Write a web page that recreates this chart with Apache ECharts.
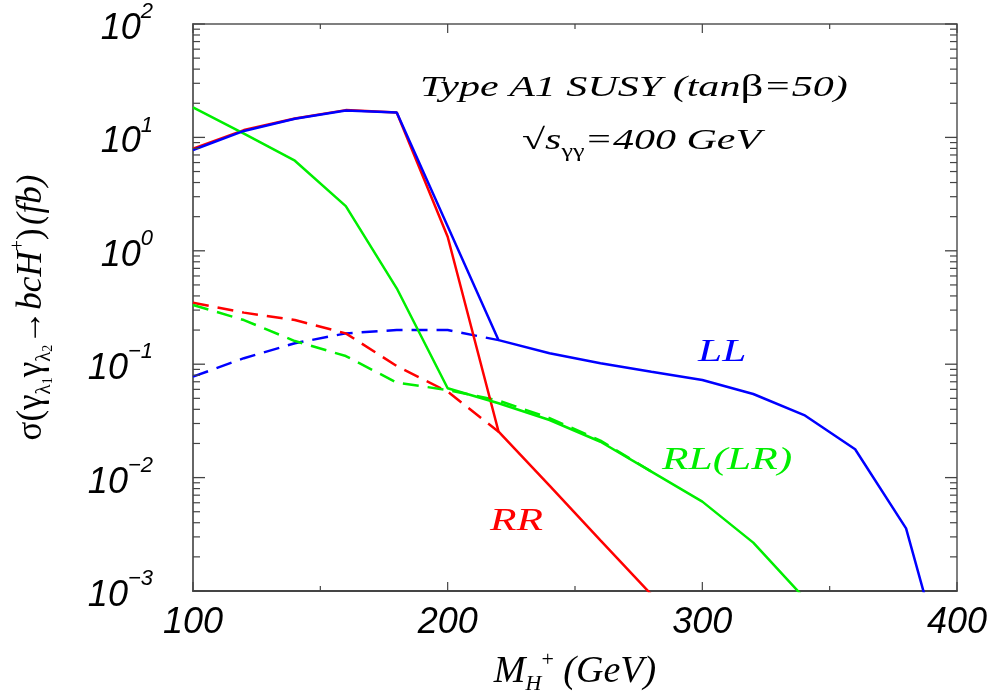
<!DOCTYPE html>
<html>
<head>
<meta charset="utf-8">
<script src="https://cdn.jsdelivr.net/npm/echarts@6/dist/echarts.min.js"></script>
<style>html,body{margin:0;padding:0;background:#fff;}#c{width:1002px;height:691px;}</style>
</head>
<body>
<div id="c"></div>
<script>
// ---- data ----
const xTicks = [100, 200, 300, 400];
const xMinorTicks = [150, 250, 350];
const yMajorTicks = [0.001, 0.01, 0.1, 1, 10, 100];

// LL (blue)
const massLLsolid = [100,120,140,160,180,200,220,240,260,280,300,320,340,360,380,390];
const sigLLsolid  = [7.74,11.4,14.6,17.3,16.6,1.65,0.163,0.125,0.102,0.0859,0.0726,0.0546,0.0356,0.0178,0.00357,0.00055];
const massLLdash  = [100,120,140,160,180,200,220];
const sigLLdash   = [0.0776,0.113,0.153,0.187,0.200,0.200,0.163];

// RR (red)
const massRRsolid = [100,120,140,160,180,200,220,240,260,280];
const sigRRsolid  = [7.95,11.6,14.7,17.4,16.6,1.33,0.0254,0.00848,0.0028,0.00093];
const massRRdash  = [100,120,140,160,180,200,220];
const sigRRdash   = [0.348,0.285,0.245,0.187,0.0964,0.0573,0.0254];

// RL(LR) (green)
const massRLsolid = [100,120,140,160,180,200,220,240,260,280,300,320,340];
const sigRLsolid  = [18.4,10.8,6.23,2.48,0.467,0.0613,0.0452,0.0322,0.0207,0.0113,0.00614,0.00267,0.00087];
const massRLdash  = [100,120,140,160,180,200,220,240,260,280];
const sigRLdash   = [0.333,0.245,0.160,0.118,0.0687,0.0592,0.0478,0.0335,0.0212,0.0113];

// minor log ticks (mantissas within each decade)
const minorMantissas = [2,3,4,5,6,7,8,9];
const minorDecades = [0.001,0.01,0.1,1,10];

// ---- build ----
const pairs = (xs, ys) => xs.map((x, i) => [x, ys[i]]);
const minorTickVals = [];
minorDecades.forEach(d => minorMantissas.forEach(m => minorTickVals.push(+(m * d).toPrecision(3))));

const BLUE = '#0000ff', RED = '#ff0000', GREEN = '#00ee00';
const SERIF = 'Liberation Serif';
const SANS = 'Liberation Sans';

function line(name, data, color, dashed) {
  return {
    name: name, type: 'line', data: data, showSymbol: false,
    clip: true, animation: false,
    lineStyle: { color: color, width: 2.5, type: dashed ? [16, 9] : 'solid' }
  };
}

const supLabel = function (v) {
  const e = Math.round(Math.log10(v));
  const es = e < 0 ? '\u2212' + (-e) : String(e);
  return '{b|10}{s|' + es + '}';
};

const texts = [
  {
    type: 'text', x: 420, y: 88, scaleX: 1.45, silent: true,
    style: {
      text: '{i|Type A1 SUSY (tan}{g|\u03b2}{i|=50)}',
      align: 'left', verticalAlign: 'middle',
      rich: {
        i: { fontFamily: SERIF, fontStyle: 'italic', fontSize: 29, fill: '#000', lineHeight: 36 },
        g: { fontFamily: SERIF, fontSize: 31, fill: '#000', lineHeight: 36 }
      }
    }
  },
  {
    type: 'text', x: 522, y: 141, scaleX: 1.45, silent: true,
    style: {
      text: '{g|\u221a}{i|s}{sub|\u03b3\u03b3}{i|=400 GeV}',
      align: 'left', verticalAlign: 'middle',
      rich: {
        g: { fontFamily: SERIF, fontSize: 29, fill: '#000', lineHeight: 40, verticalAlign: 'middle' },
        i: { fontFamily: SERIF, fontStyle: 'italic', fontSize: 29, fill: '#000', lineHeight: 40, verticalAlign: 'middle' },
        sub: { fontFamily: SERIF, fontSize: 18, fill: '#000', lineHeight: 14, verticalAlign: 'bottom' }
      }
    }
  },
  {
    type: 'text', x: 698, y: 353, scaleX: 1.4, silent: true,
    style: { text: 'LL', fontFamily: SERIF, fontStyle: 'italic', fontSize: 31, fill: BLUE, align: 'left', verticalAlign: 'middle' }
  },
  {
    type: 'text', x: 662, y: 461, scaleX: 1.4, silent: true,
    style: { text: 'RL(LR)', fontFamily: SERIF, fontStyle: 'italic', fontSize: 31, fill: GREEN, align: 'left', verticalAlign: 'middle' }
  },
  {
    type: 'text', x: 490, y: 522, scaleX: 1.4, silent: true,
    style: { text: 'RR', fontFamily: SERIF, fontStyle: 'italic', fontSize: 31, fill: RED, align: 'left', verticalAlign: 'middle' }
  }
];

const chart = echarts.init(document.getElementById('c'), null, { renderer: 'canvas' });

chart.setOption({
  animation: false,
  backgroundColor: '#fff',
  grid: {
    left: 193, top: 24, right: 45, bottom: 100, containLabel: false, outerBoundsMode: 'none',
    show: true, borderColor: '#555', borderWidth: 1.5, backgroundColor: 'transparent'
  },
  xAxis: {
    type: 'value', min: 100, max: 400, interval: 100,
    axisLine: { show: true, onZero: false, lineStyle: { color: '#333', width: 1.5 } },
    axisTick: { show: false },
    minorTick: { show: false },
    splitLine: { show: false },
    axisLabel: {
      margin: 14, fontSize: 36, fontStyle: 'italic', fontFamily: SANS, color: '#000',
      formatter: function (v) { return xTicks.indexOf(v) >= 0 ? String(v) : ''; }
    },
    name: '{i|M}{sub|H}{sup|+}{i| (GeV)}',
    nameLocation: 'middle', nameGap: 58,
    nameTextStyle: {
      rich: {
        i: { fontFamily: SERIF, fontStyle: 'italic', fontSize: 38, color: '#000', lineHeight: 46, verticalAlign: 'middle' },
        sub: { fontFamily: SERIF, fontStyle: 'italic', fontSize: 22, color: '#000', lineHeight: 14, verticalAlign: 'bottom' },
        sup: { fontFamily: SERIF, fontSize: 22, color: '#000', lineHeight: 32, verticalAlign: 'top' }
      }
    }
  },
  yAxis: {
    type: 'log', logBase: 10, min: 0.001, max: 100, interval: 1,
    axisLine: { show: true, onZero: false, lineStyle: { color: '#666', width: 2 } },
    axisTick: { show: false },
    splitLine: { show: false },
    axisLabel: {
      margin: 40, color: '#000', formatter: supLabel,
      rich: {
        b: { fontSize: 36, fontStyle: 'italic', fontFamily: SANS, color: '#000', lineHeight: 44, verticalAlign: 'bottom' },
        s: { fontSize: 22, fontStyle: 'italic', fontFamily: SANS, color: '#000', lineHeight: 46, verticalAlign: 'top' }
      }
    },
    name: '{g|\u03c3(\u03b3}{l|\u03bb}{n|1}{g|\u03b3}{l|\u03bb}{n|2}{g|\u2192}{i|bcH}{p|+}{g|)} {i|(fb)}',
    nameLocation: 'middle', nameRotate: 90, nameGap: 138,
    nameTextStyle: {
      rich: {
        g: { fontFamily: SERIF, fontSize: 35, color: '#000', lineHeight: 46, verticalAlign: 'middle' },
        i: { fontFamily: SERIF, fontStyle: 'italic', fontSize: 35, color: '#000', lineHeight: 46, verticalAlign: 'middle' },
        l: { fontFamily: SERIF, fontSize: 21, color: '#000', lineHeight: 22, verticalAlign: 'bottom' },
        n: { fontFamily: SERIF, fontSize: 14, color: '#000', lineHeight: 8, verticalAlign: 'bottom' },
        p: { fontFamily: SERIF, fontSize: 20, color: '#000', lineHeight: 34, verticalAlign: 'top' }
      }
    }
  },
  series: [
    line('LL dashed', pairs(massLLdash, sigLLdash), BLUE, true),
    line('RR dashed', pairs(massRRdash, sigRRdash), RED, true),
    line('RL dashed', pairs(massRLdash, sigRLdash), GREEN, true),
    line('RR', pairs(massRRsolid, sigRRsolid), RED, false),
    line('RL(LR)', pairs(massRLsolid, sigRLsolid), GREEN, false),
    line('LL', pairs(massLLsolid, sigLLsolid), BLUE, false)
  ]
});

// ---- tick marks on all four sides, positioned through the chart's own scales ----
const px = (x, y) => chart.convertToPixel({ gridIndex: 0 }, [x, y]);
const ticks = [];
function tickLine(x1, y1, x2, y2, w) {
  ticks.push({ type: 'line', silent: true, z: 5,
    shape: { x1: x1, y1: y1, x2: x2, y2: y2 },
    style: { stroke: '#444', lineWidth: w } });
}
// y ticks, left and right
yMajorTicks.forEach(v => {
  const pL = px(100, v), pR = px(400, v);
  tickLine(pL[0], pL[1], pL[0] + 12, pL[1], 1.3);
  tickLine(pR[0] - 12, pR[1], pR[0], pR[1], 1.3);
});
minorTickVals.forEach(v => {
  const pL = px(100, v), pR = px(400, v);
  tickLine(pL[0], pL[1], pL[0] + 7, pL[1], 1.2);
  tickLine(pR[0] - 7, pR[1], pR[0], pR[1], 1.2);
});
// x ticks, bottom and top
xTicks.forEach(v => {
  const pB = px(v, 0.001), pT = px(v, 100);
  tickLine(pB[0], pB[1], pB[0], pB[1] - 9, 1.2);
  tickLine(pT[0], pT[1], pT[0], pT[1] + 9, 1.2);
});
xMinorTicks.forEach(v => {
  const pB = px(v, 0.001), pT = px(v, 100);
  tickLine(pB[0], pB[1], pB[0], pB[1] - 5, 1.2);
  tickLine(pT[0], pT[1], pT[0], pT[1] + 5, 1.2);
});

chart.setOption({ graphic: texts.concat(ticks) });
chart.getZr().storage.getDisplayList(true);
chart.getZr().refreshImmediately();
</script>
</body>
</html>
